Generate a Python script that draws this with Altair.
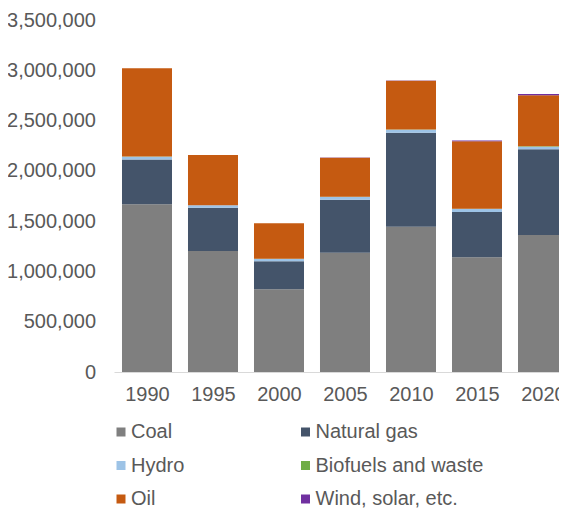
import altair as alt
import pandas as pd

years = [1990, 1995, 2000, 2005, 2010, 2015, 2020]
coal = [1667000, 1203000, 822000, 1186000, 1445000, 1140000, 1362000]
natural_gas = [447000, 431000, 279000, 527000, 935000, 451000, 852000]
hydro = [27000, 23000, 23000, 27000, 29000, 30000, 26000]
biofuels = [2000, 2000, 2000, 2000, 3000, 3000, 4000]
oil = [877000, 499000, 352000, 389000, 485000, 671000, 507000]
wind = [0, 0, 0, 1000, 2000, 6000, 12000]

# legend fills column by column: Coal/Hydro/Oil, then Natural gas/Biofuels/Wind
legend_order = ["Coal", "Hydro", "Oil", "Natural gas", "Biofuels and waste", "Wind, solar, etc."]
colors = ["#7f7f7f", "#9dc3e6", "#c55a11", "#44546a", "#70ad47", "#7030a0"]
stack_rank = {"Coal": 0, "Natural gas": 1, "Hydro": 2, "Biofuels and waste": 3, "Oil": 4, "Wind, solar, etc.": 5}

series = {
    "Coal": coal,
    "Natural gas": natural_gas,
    "Hydro": hydro,
    "Biofuels and waste": biofuels,
    "Oil": oil,
    "Wind, solar, etc.": wind,
}

rows = []
for name, vals in series.items():
    for y, v in zip(years, vals):
        rows.append({"year": y, "source": name, "value": v, "rank": stack_rank[name]})
df = pd.DataFrame(rows)

FONT = "Liberation Sans"
TXT = "#595959"
HALF = 1.894  # half of a bar's width, in years on the x scale

base = alt.Chart(df).transform_stack(
    stack="value",
    groupby=["year"],
    as_=["v0", "v1"],
    sort=[alt.SortField("rank", order="ascending")],
).transform_calculate(
    x0=f"datum.year - {HALF}", x1=f"datum.year + {HALF}"
)

chart = base.mark_bar().encode(
    x=alt.X(
        "x0:Q",
        scale=alt.Scale(domain=[1987.5, 2021.212], nice=False, zero=False, padding=0, clamp=True),
        axis=alt.Axis(
            title=None, values=years, format="d", labelAngle=0, ticks=False, tickSize=0,
            labelPadding=12, domainColor="#d9d9d9", domainWidth=1, labelFontSize=20,
            labelColor=TXT, labelFont=FONT, grid=False, labelFlush=False, labelOverlap=False,
        ),
    ),
    x2="x1:Q",
    y=alt.Y(
        "v0:Q",
        scale=alt.Scale(domain=[0, 3500000], nice=False),
        axis=alt.Axis(
            title=None, values=[0, 500000, 1000000, 1500000, 2000000, 2500000, 3000000, 3500000],
            format=",d", grid=False, domain=False, ticks=False, tickSize=0, labelPadding=18.5,
            labelFontSize=20, labelColor=TXT, labelFont=FONT,
        ),
    ),
    y2="v1:Q",
    color=alt.Color(
        "source:N",
        scale=alt.Scale(domain=legend_order, range=colors),
        sort=legend_order,
        legend=alt.Legend(
            title=None, orient="none", legendX=-3, legendY=402, columns=2,
            columnPadding=110.5, rowPadding=13.5, symbolType="square", symbolSize=81,
            symbolStrokeWidth=0, labelFontSize=20, labelColor=TXT, labelFont=FONT,
            labelOffset=0, padding=0, labelLimit=400,
        ),
    ),
).properties(
    width=445,
    height=352,
    autosize=alt.AutoSizeParams(type="none"),
    padding={"left": 106, "top": 12, "right": 0, "bottom": 136},
).configure_view(stroke=None)

chart.save("out.html", embed_options={"renderer": "svg", "actions": False})
